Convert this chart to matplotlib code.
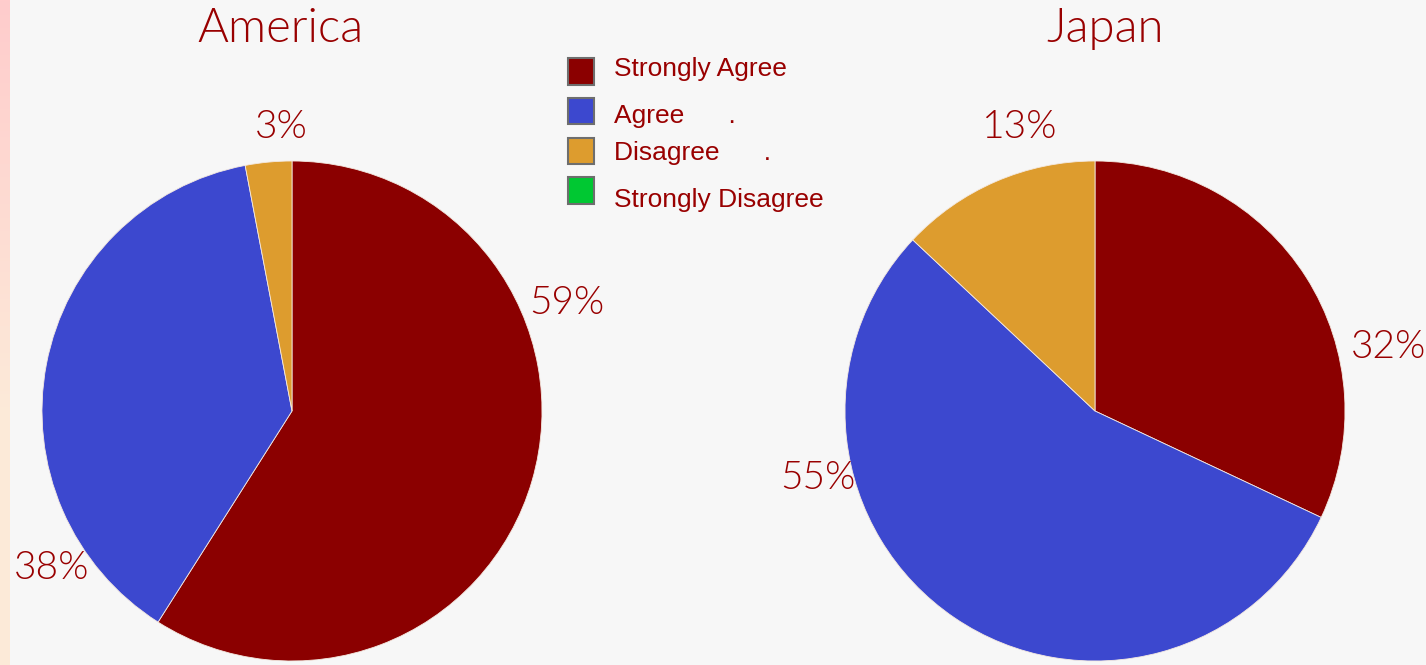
import numpy as np
import matplotlib
matplotlib.use("Agg")
import matplotlib.pyplot as plt
from matplotlib.patches import Rectangle


W, H = 1426, 665

categories = ["Strongly Agree", "Agree", "Disagree", "Strongly Disagree"]
legend_texts = ["Strongly Agree", "Agree      .", "Disagree      .", "Strongly Disagree"]
colors = ["#8b0000", "#3c48cf", "#dd9c2e", "#00c832"]

america = [59, 38, 3, 0]
japan = [32, 55, 13, 0]

# where each percent label sits: (angle in degrees, distance in radii)
america_label_pos = [(21.4, 1.18), (213.2, 1.15), (92.2, 1.135)]
japan_label_pos = [(12.3, 1.20), (193.6, 1.14), (104.8, 1.175)]

text_color = "#990000"
bg = "#f7f7f7"
title_font = "Lato"
title_weight = 300
legend_font = "Liberation Sans"


def px_box(x0, y0, x1, y1):
    # pixel box (top-left origin) -> figure fraction [left, bottom, width, height]
    return [x0 / W, (H - y1) / H, (x1 - x0) / W, (y1 - y0) / H]


def draw_pie(ax, values, label_pos):
    vals = [v for v in values if v > 0]
    cols = [c for v, c in zip(values, colors) if v > 0]
    ax.pie(vals, colors=cols, startangle=90, counterclock=False, radius=1.0,
           wedgeprops=dict(edgecolor="#f4e9e0", linewidth=0.6))
    ax.set_xlim(-1, 1)
    ax.set_ylim(-1, 1)
    ax.set_aspect("equal")
    ax.axis("off")
    for v, (ang, dist) in zip(vals, label_pos):
        a = np.radians(ang)
        ax.text(dist * np.cos(a), dist * np.sin(a), "%d%%" % v,
                ha="center", va="center", fontsize=28, color=text_color,
                family=title_font, fontweight=title_weight, clip_on=False)


fig = plt.figure(figsize=(W / 100, H / 100), dpi=100, facecolor=bg)

# pink strip down the left edge
strip = fig.add_axes(px_box(0, 0, 10, H))
grad = np.linspace(0, 1, 256).reshape(-1, 1)
top = np.array([1.0, 0.80, 0.80])
bottom = np.array([0.99, 0.92, 0.85])
img = top + (bottom - top) * np.clip(grad * 1.6, 0, 1)[..., None]
strip.imshow(img.reshape(256, 1, 3), aspect="auto")
strip.axis("off")

ax1 = fig.add_axes(px_box(42, 161, 542, 661))
ax2 = fig.add_axes(px_box(845, 161, 1345, 661))
draw_pie(ax1, america, america_label_pos)
draw_pie(ax2, japan, japan_label_pos)

for title, cx in [("America", 280), ("Japan", 1105)]:
    fig.text(cx / W, 1 - 42 / H, title, ha="center", va="baseline",
             fontsize=34, color=text_color, family=title_font,
             fontweight=title_weight)

# legend
square_y = [71.5, 111, 151, 190.5]
label_y = [69, 116, 153, 200]
for name, col, sy, ty in zip(legend_texts, colors, square_y, label_y):
    fig.add_artist(Rectangle((568 / W, 1 - (sy + 13) / H), 26 / W, 26 / H,
                             transform=fig.transFigure, facecolor=col,
                             edgecolor="#6e6e6e", linewidth=1.5))
    fig.text(614 / W, 1 - ty / H, name, ha="left", va="center",
             fontsize=19, color=text_color, family=legend_font)

fig.savefig("out.png", dpi=100, facecolor=bg)
